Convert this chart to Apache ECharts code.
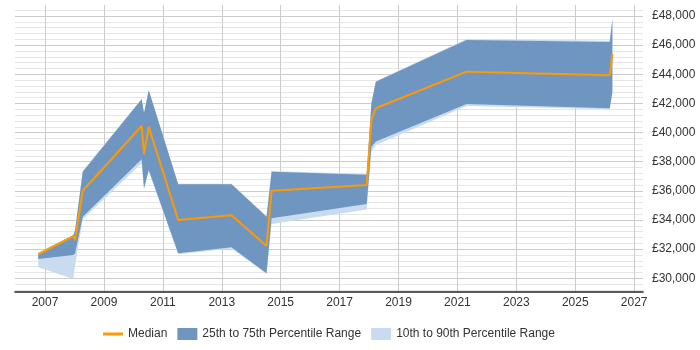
<!DOCTYPE html>
<html>
<head>
<meta charset="utf-8">
<script src="https://cdn.jsdelivr.net/npm/echarts@6/dist/echarts.min.js"></script>
<style>
html,body{margin:0;padding:0;background:#fff;}
#chart{width:700px;height:350px;}
</style>
</head>
<body>
<div id="chart"></div>
<script>
// Dates as decimal years
const dates  = [2006.77, 2007.96, 2008.02, 2008.28, 2010.28, 2010.36, 2010.52, 2011.52, 2013.33, 2014.52, 2014.69, 2017.92, 2018.08, 2018.23, 2021.31, 2026.17, 2026.26];
const p10    = [30750, 29950, 30900, 34050, 37900, 36100, 37350, 31650, 32050, 30300, 33730, 34730, 38690, 39150, 41830, 41600, 42700];
const p25    = [31330, 31600, 31720, 34230, 38170, 36180, 37430, 31720, 32130, 30340, 34120, 35100, 39030, 39380, 41960, 41670, 42800];
const median = [31650, 32900, 32630, 36010, 40450, 38530, 40400, 34000, 34320, 32220, 36010, 36400, 40860, 41670, 44180, 43930, 45390];
const p75    = [31720, 32950, 33300, 37320, 42290, 41320, 42900, 36450, 36450, 34230, 37320, 37100, 42010, 43490, 46355, 46220, 47780];
const p90    = [31740, 32980, 33350, 37360, 42320, 41340, 42930, 36490, 36490, 34260, 37360, 37150, 42060, 43530, 46430, 46300, 47810];
const yearLabels = [2007, 2009, 2011, 2013, 2015, 2017, 2019, 2021, 2023, 2025, 2027];
const seriesNames = ['Median', '25th to 75th Percentile Range', '10th to 90th Percentile Range'];

const ORANGE = '#ff9900', BLUE = '#6f96c0', LIGHT = '#c9dcef';

// x axis measured in years since the first labelled year, so that nice ticks land on odd years
const X0 = yearLabels[0];
const ux = (d) => d - X0;
const pairs = (arr) => dates.map((d, i) => [ux(d), arr[i]]);

function fmtMoney(v) {
  return '£' + String(Math.round(v)).replace(/\B(?=(\d{3})+(?!\d))/g, ',');
}

function bandSeries(name, lo, hi, color, z) {
  return {
    name: name, type: 'custom', z: z,
    color: color, itemStyle: {color: color},
    data: dates.map((d, i) => [ux(d), lo[i], hi[i]]),
    encode: {x: 0, y: [1, 2]},
    renderItem: function (params, api) {
      if (params.dataIndex !== 0) return null;
      const pts = [];
      for (let i = 0; i < dates.length; i++) pts.push(api.coord([ux(dates[i]), hi[i]]));
      for (let i = dates.length - 1; i >= 0; i--) pts.push(api.coord([ux(dates[i]), lo[i]]));
      return {type: 'polygon', shape: {points: pts}, style: {fill: color, stroke: null}};
    }
  };
}

const chart = echarts.init(document.getElementById('chart'), null, {renderer: 'canvas'});
chart.setOption({
  animation: false,
  backgroundColor: '#ffffff',
  textStyle: {fontFamily: 'Liberation Sans, Arial, sans-serif'},
  grid: {left: 15, right: 57, top: 5, bottom: 58, containLabel: false},
  legend: {
    left: 98, top: 323,
    itemWidth: 20, itemHeight: 12, itemGap: 10,
    textStyle: {fontSize: 12, color: '#333', fontFamily: 'Liberation Sans, Arial, sans-serif'},
    data: [
      {name: seriesNames[0], icon: 'path://M0,0H20V3H0Z', itemStyle: {color: ORANGE}},
      {name: seriesNames[1], icon: 'rect', itemStyle: {color: BLUE}},
      {name: seriesNames[2], icon: 'rect', itemStyle: {color: LIGHT}}
    ]
  },
  xAxis: {
    type: 'value',
    min: -1.02, max: 20.3, splitNumber: 10, minInterval: 2, maxInterval: 2,
    axisLine: {show: true, onZero: false, lineStyle: {color: '#222', width: 1.5}},
    axisTick: {show: false},
    axisLabel: {
      margin: 5, fontSize: 12, color: '#333', showMinLabel: false, showMaxLabel: false,
      formatter: v => { const y = Math.round(v) + X0; return (Math.abs(v - Math.round(v)) < 1e-6 && yearLabels.indexOf(y) >= 0) ? String(y) : ''; }
    },
    splitLine: {show: true, showMinLine: false, showMaxLine: false, lineStyle: {color: '#cccccc', width: 1}}
  },
  yAxis: {
    type: 'value', position: 'right',
    min: 29060, max: 48755, splitNumber: 10, minInterval: 2000, maxInterval: 2000,
    axisLine: {show: false},
    axisTick: {show: false},
    axisLabel: {
      margin: 9, fontSize: 12, color: '#333', showMinLabel: false, showMaxLabel: false,
      formatter: v => { const r = Math.round(v); return (r % 2000 === 0 && r >= 30000 && r <= 48000) ? fmtMoney(r) : ''; }
    },
    minorTick: {show: false, splitNumber: 5},
    minorSplitLine: {show: true, lineStyle: {color: '#e6e6e6', width: 1}},
    splitLine: {show: true, showMinLine: false, showMaxLine: false, lineStyle: {width: 1, color: '#cccccc'}}
  },
  series: [
    bandSeries(seriesNames[2], p10, p90, LIGHT, 1),
    bandSeries(seriesNames[1], p25, p75, BLUE, 2),
    {
      name: seriesNames[0], type: 'line', data: pairs(median),
      symbol: 'none', showSymbol: false, color: ORANGE, lineStyle: {color: ORANGE, width: 2}, z: 3
    }
  ]
});
</script>
</body>
</html>
